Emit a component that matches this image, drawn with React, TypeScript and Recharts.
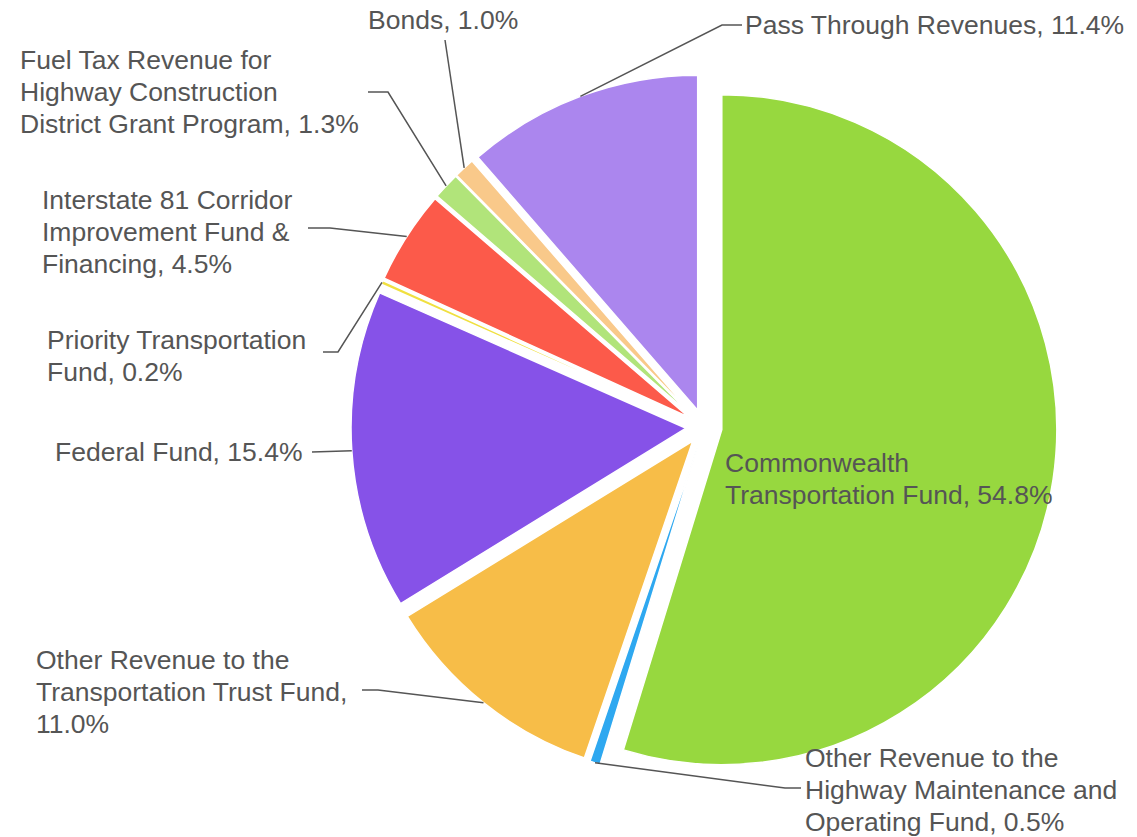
import { PieChart, Pie, Cell, Sector } from "recharts";

const NAMES = [
  "Commonwealth Transportation Fund",
  "Other Revenue to the Highway Maintenance and Operating Fund",
  "Other Revenue to the Transportation Trust Fund",
  "Federal Fund",
  "Priority Transportation Fund",
  "Interstate 81 Corridor Improvement Fund & Financing",
  "Fuel Tax Revenue for Highway Construction District Grant Program",
  "Bonds",
  "Pass Through Revenues",
];
const VALUES = [54.8, 0.5, 11.0, 15.4, 0.2, 4.5, 1.3, 1.0, 11.4];
const COLORS = [
  "#97d83f",
  "#2ea8f0",
  "#f7bd48",
  "#8652e8",
  "#f0e040",
  "#fc5a4a",
  "#b1e47a",
  "#f9c98a",
  "#ab86ee",
];
// wrapped label text, the percentage is appended to the last line
const LABEL_LINES = [
  ["Commonwealth", "Transportation Fund, "],
  ["Other Revenue to the", "Highway Maintenance and", "Operating Fund, "],
  ["Other Revenue to the", "Transportation Trust Fund,", ""],
  ["Federal Fund, "],
  ["Priority Transportation", "Fund, "],
  ["Interstate 81 Corridor", "Improvement Fund &", "Financing, "],
  ["Fuel Tax Revenue for", "Highway Construction", "District Grant Program, "],
  ["Bonds, "],
  ["Pass Through Revenues, "],
];

const data = NAMES.map((name, i) => ({ name, value: VALUES[i] }));

const EXPLODE = 18;
const RAD = Math.PI / 180;
const FONT = "'Liberation Sans', Arial, sans-serif";
const TEXT = "#555555";

// where each label sits, and the bend of its leader line
const LABEL_POS: { x: number; y: number; bend?: number[]; end?: number[] }[] = [
  { x: 725, y: 472 },
  { x: 805, y: 767, bend: [785, 788], end: [801, 788] },
  { x: 36, y: 669, bend: [378, 690], end: [362, 690] },
  { x: 55, y: 461, end: [312, 452] },
  { x: 47, y: 349, bend: [338, 352], end: [323, 352] },
  { x: 42, y: 209, bend: [330, 228], end: [308, 228] },
  { x: 20, y: 69, bend: [388, 92], end: [368, 92] },
  { x: 368, y: 29, end: [445, 40] },
  { x: 745, y: 34, bend: [722, 25], end: [742, 25] },
];

function ExplodedSector(props: any) {
  const { cx, cy, midAngle } = props;
  const dx = EXPLODE * Math.cos(-midAngle * RAD);
  const dy = EXPLODE * Math.sin(-midAngle * RAD);
  return <Sector {...props} cx={cx + dx} cy={cy + dy} stroke="#fff" strokeWidth={1.5} />;
}

function renderLabel(props: any) {
  const { cx, cy, midAngle, outerRadius, index } = props;
  const pos = LABEL_POS[index];
  const lines = LABEL_LINES[index].slice();
  lines[lines.length - 1] += `${VALUES[index].toFixed(1)}%`;
  const r = outerRadius + EXPLODE;
  const px = cx + r * Math.cos(-midAngle * RAD);
  const py = cy + r * Math.sin(-midAngle * RAD);
  const pts = [[px, py]];
  if (pos.bend) pts.push(pos.bend);
  if (pos.end) pts.push(pos.end);
  return (
    <g key={`lbl-${index}`}>
      {pts.length > 1 && (
        <polyline
          points={pts.map((p) => p.join(",")).join(" ")}
          fill="none"
          stroke="#555555"
          strokeWidth={1.5}
        />
      )}
      <text x={pos.x} y={pos.y} fill={TEXT} fontSize={26.5} fontFamily={FONT}>
        {lines.map((t, i) => (
          <tspan key={i} x={pos.x} dy={i === 0 ? 0 : 32}>
            {t}
          </tspan>
        ))}
      </text>
    </g>
  );
}

export default function App() {
  return (
    <div style={{ position: "absolute", left: 0, top: 0, background: "#fff" }}>
      <PieChart width={1137} height={837} margin={{ top: 0, right: 0, bottom: 0, left: 0 }}>
        <Pie
          data={data}
          dataKey="value"
          nameKey="name"
          cx={704}
          cy={427}
          outerRadius={335}
          startAngle={90}
          endAngle={-270}
          shape={ExplodedSector}
          label={renderLabel}
          labelLine={false}
          isAnimationActive={false}
          stroke="#fff"
        >
          {data.map((d, i) => (
            <Cell key={d.name} fill={COLORS[i]} />
          ))}
        </Pie>
      </PieChart>
    </div>
  );
}
